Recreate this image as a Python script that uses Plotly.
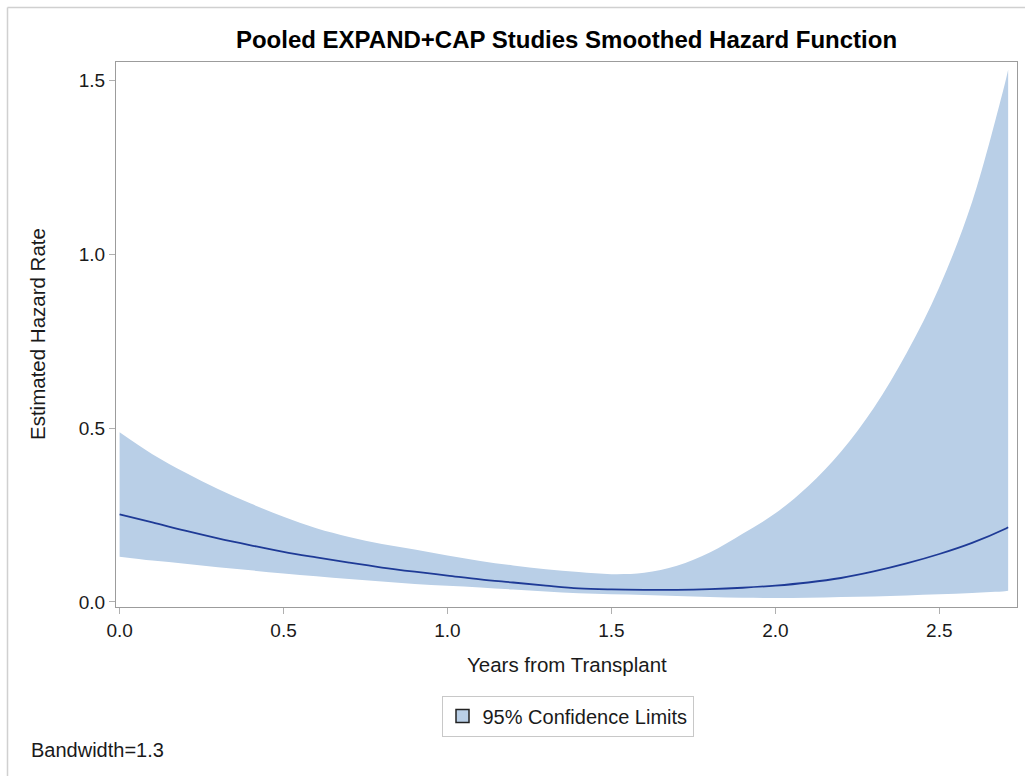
import plotly.graph_objects as go

# Smoothed hazard estimate with pointwise 95% confidence limits
years = [0.0, 0.1, 0.2, 0.3, 0.4, 0.5, 0.6, 0.7, 0.8, 0.9, 1.0, 1.1, 1.2, 1.3, 1.4,
         1.5, 1.6, 1.7, 1.8, 1.9, 2.0, 2.1, 2.2, 2.3, 2.4, 2.5, 2.6, 2.7, 2.71]
hazard = [0.252, 0.229, 0.205, 0.183, 0.163, 0.144, 0.128, 0.113, 0.099, 0.087, 0.076,
          0.065, 0.056, 0.047, 0.039, 0.036, 0.035, 0.035, 0.037, 0.041, 0.047, 0.056,
          0.069, 0.088, 0.111, 0.138, 0.170, 0.210, 0.215]
lower = [0.130, 0.119, 0.110, 0.100, 0.091, 0.082, 0.074, 0.066, 0.059, 0.052, 0.047,
         0.042, 0.036, 0.030, 0.025, 0.022, 0.020, 0.017, 0.014, 0.012, 0.0115, 0.012,
         0.014, 0.016, 0.019, 0.022, 0.026, 0.031, 0.032]
upper = [0.488, 0.425, 0.372, 0.325, 0.283, 0.245, 0.212, 0.187, 0.167, 0.151, 0.134,
         0.118, 0.105, 0.094, 0.086, 0.080, 0.084, 0.104, 0.142, 0.196, 0.255, 0.333,
         0.432, 0.558, 0.715, 0.905, 1.150, 1.490, 1.530]

x_ticks = [0.0, 0.5, 1.0, 1.5, 2.0, 2.5]
y_ticks = [0.0, 0.5, 1.0, 1.5]

FONT = "Liberation Sans, Arial, sans-serif"
BAND = "rgb(185,207,231)"
LINE = "rgb(30,58,150)"
AXIS = "#9c9c9c"
TEXT = "#1a1a1a"

W, H = 1025, 776
L, R, T, B = 116, 8, 62, 169
pw, ph = W - L - R, H - T - B


def px(xp):
    return (xp - L) / pw


def py(yp):
    return (H - B - yp) / ph


fig = go.Figure()

fig.add_trace(go.Scatter(x=years, y=lower, mode="lines", line=dict(width=0, shape="spline"),
                         showlegend=False, hoverinfo="skip"))
fig.add_trace(go.Scatter(x=years, y=upper, mode="lines", line=dict(width=0, shape="spline"),
                         fill="tonexty", fillcolor=BAND, showlegend=False, hoverinfo="skip"))
fig.add_trace(go.Scatter(x=years, y=hazard, mode="lines",
                         line=dict(color=LINE, width=1.8, shape="spline"), showlegend=False))
# legend entry for the confidence band
fig.add_trace(go.Scatter(x=[None], y=[None], mode="markers", name="95% Confidence Limits",
                         marker=dict(symbol="square", size=13, color=BAND,
                                     line=dict(color="#222222", width=1.5))))

fig.update_layout(
    width=W, height=H,
    margin=dict(l=L, r=R, t=T, b=B, pad=0),
    paper_bgcolor="white", plot_bgcolor="white",
    font=dict(family=FONT, color=TEXT),
    title=dict(text="<b>Pooled EXPAND+CAP Studies Smoothed Hazard Function</b>",
               font=dict(size=24, family=FONT, color="#000000"),
               x=0.5, xref="paper", xanchor="center",
               y=1 - 40 / H, yref="container", yanchor="middle"),
    xaxis=dict(range=[-0.011, 2.737], tickvals=x_ticks, tickformat=".1f",
               showgrid=False, zeroline=False, showline=True, mirror=True,
               linecolor=AXIS, linewidth=1, ticks="outside", ticklen=6,
               tickcolor="#b0b0b0", tickwidth=1, tickfont=dict(size=19, color=TEXT)),
    yaxis=dict(range=[-0.0144, 1.5526], tickvals=y_ticks, tickformat=".1f",
               showgrid=False, zeroline=False, showline=True, mirror=True,
               linecolor=AXIS, linewidth=1, ticks="outside", ticklen=6,
               tickcolor="#b0b0b0", tickwidth=1, tickfont=dict(size=19, color=TEXT)),
    legend=dict(orientation="h", x=px(567.5), xanchor="center", y=py(695.5), yanchor="top",
                bordercolor="#c8c8c8", borderwidth=1, bgcolor="white",
                font=dict(size=20, color=TEXT)),
    showlegend=True,
    annotations=[
        dict(text="Years from Transplant", xref="paper", yref="paper",
             x=0.5, y=py(664), xanchor="center", yanchor="middle", showarrow=False,
             font=dict(size=20.5, color=TEXT)),
        dict(text="Estimated Hazard Rate", xref="paper", yref="paper", textangle=-90,
             x=px(37), y=py(334), xanchor="center", yanchor="middle", showarrow=False,
             font=dict(size=20.5, color=TEXT)),
        dict(text="Bandwidth=1.3", xref="paper", yref="paper",
             x=px(29), y=py(750), xanchor="left", yanchor="middle", showarrow=False,
             font=dict(size=20, color=TEXT)),
    ],
    shapes=[
        dict(type="line", xref="paper", yref="paper", x0=px(7.5), x1=px(1030),
             y0=py(7.5), y1=py(7.5), line=dict(color="#d0d0d0", width=1.5)),
        dict(type="line", xref="paper", yref="paper", x0=px(7.5), x1=px(7.5),
             y0=py(7.5), y1=py(790), line=dict(color="#d0d0d0", width=1.5)),
    ],
)

fig.write_html("out.html")
